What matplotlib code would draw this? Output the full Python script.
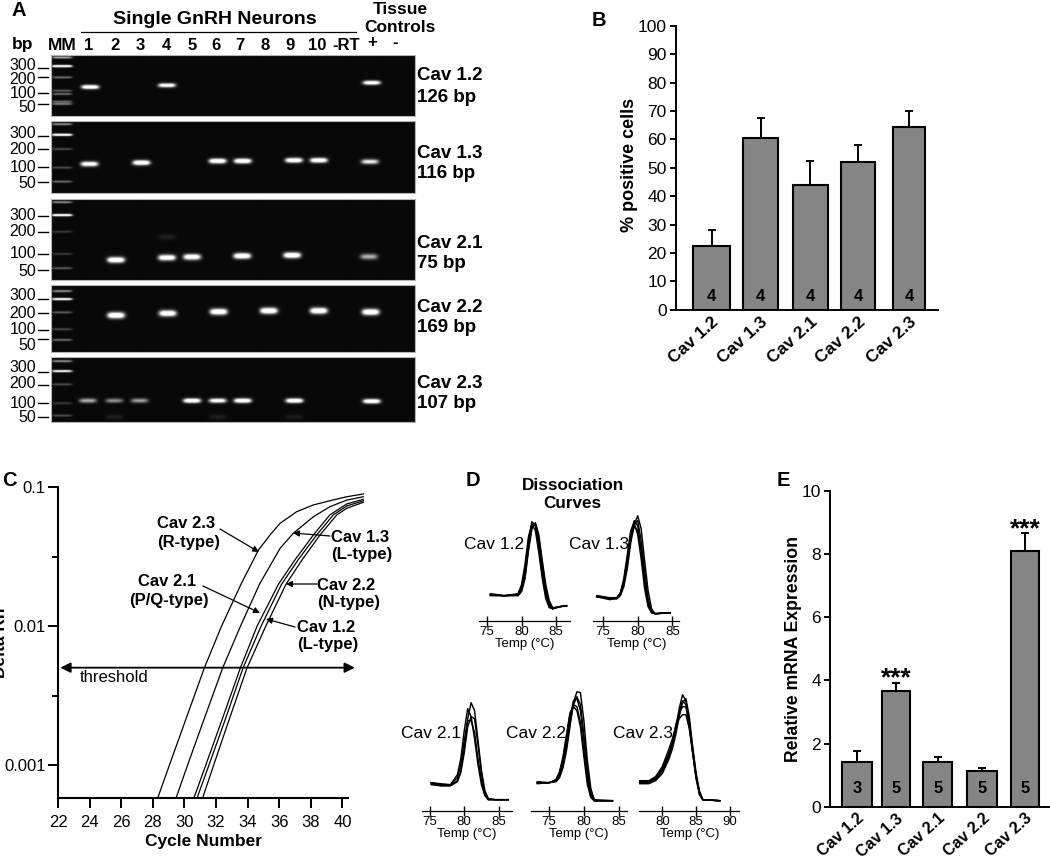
import numpy as np
import matplotlib
matplotlib.use('Agg')
import matplotlib.pyplot as plt

plt.rcParams['font.family'] = ['Liberation Sans', 'DejaVu Sans']

W = 1050
H = 860

cav_names = ['Cav 1.2', 'Cav 1.3', 'Cav 2.1', 'Cav 2.2', 'Cav 2.3']

# Panel A, gel bands: lane number, row on the gel, brightness
gel_sizes = ['126 bp', '116 bp', '75 bp', '169 bp', '107 bp']
bp_labels = ['300', '200', '100', '50']
lane_labels = ['1', '2', '3', '4', '5', '6', '7', '8', '9', '10']

gel1_lanes = [1.0, 4.03, 12.11]
gel1_rows = [87, 85.3, 82.7]
gel1_levels = [1.0, 0.9, 0.95]
gel1_ladder = [57.3, 66, 77.3, 90.7, 94, 101.7, 104]
gel1_ladder_levels = [0.5, 1.0, 0.3, 0.25, 0.3, 0.3, 0.35]

gel2_lanes = [0.97, 3.02, 6.03, 7.02, 9.04, 10.02, 12.04]
gel2_rows = [164, 162.7, 161, 161, 160.3, 160.3, 161.7]
gel2_levels = [0.9, 1.0, 1.0, 1.0, 0.95, 0.95, 0.7]
gel2_ladder = [124, 134.7, 149, 167.7, 181.7]
gel2_ladder_levels = [0.4, 1.0, 0.2, 0.2, 0.3]

gel3_lanes = [2.02, 4.03, 5.02, 7.0, 8.97, 12.0, 4.03]
gel3_rows = [260, 257.7, 257, 256, 255.3, 256.7, 237]
gel3_levels = [1.0, 0.95, 0.95, 1.0, 1.0, 0.5, 0.07]
gel3_ladder = [202, 215, 231.7, 254, 268.3]
gel3_ladder_levels = [0.4, 1.0, 0.15, 0.15, 0.25]

gel4_lanes = [2.02, 4.06, 6.07, 8.05, 10.02, 12.07]
gel4_rows = [315.3, 313.3, 311.7, 310.7, 310.7, 312]
gel4_levels = [1.0, 0.95, 1.0, 1.0, 1.0, 1.0]
gel4_ladder = [291, 299, 312.3, 329.3, 340]
gel4_ladder_levels = [0.4, 0.9, 0.25, 0.2, 0.3]

gel5_lanes = [0.91, 1.95, 2.95, 5.02, 6.03, 7.02, 9.06, 12.11, 1.95, 6.03, 9.06]
gel5_rows = [400.7, 400.7, 400.7, 400.7, 400.7, 400.7, 400.7, 401.3, 417, 417, 417]
gel5_levels = [0.5, 0.4, 0.45, 1.0, 0.85, 1.0, 1.0, 1.0, 0.07, 0.07, 0.06]
gel5_ladder = [361, 371, 384.3, 403.3, 415.7]
gel5_ladder_levels = [0.4, 0.8, 0.2, 0.15, 0.2]

# Panel B
pct_positive = [22.5, 60.5, 44, 52, 64.5]
pct_err = [5.5, 7.2, 8.5, 6.2, 5.5]
pct_n = ['4', '4', '4', '4', '4']

# Panel C
c23_cycle = [28.31, 29.05, 30.0, 31.26, 32.35, 33.58, 34.68, 35.42, 36.05, 37.1, 38.16, 39.2, 40.27, 41.32]
c23_rn = [0.00058, 0.001, 0.002, 0.005, 0.01, 0.02, 0.0352, 0.0452, 0.0548, 0.0664, 0.0743, 0.0796, 0.0851, 0.0891]
c13_cycle = [29.47, 30.2, 31.15, 32.42, 33.55, 34.75, 36.05, 36.89, 38.16, 39.2, 40.27, 41.32]
c13_rn = [0.00058, 0.001, 0.002, 0.005, 0.01, 0.02, 0.0362, 0.0465, 0.0611, 0.0721, 0.0805, 0.0851]
c21_cycle = [30.6, 31.35, 32.3, 33.54, 34.6, 35.95, 37.0, 38.16, 39.2, 40.27, 41.32]
c21_rn = [0.00058, 0.001, 0.002, 0.005, 0.01, 0.02, 0.03, 0.0452, 0.063, 0.0755, 0.0816]
c12_cycle = [30.8, 31.55, 32.5, 33.71, 34.85, 36.15, 37.2, 38.37, 39.42, 40.27, 41.32]
c12_rn = [0.00058, 0.001, 0.002, 0.005, 0.01, 0.02, 0.03, 0.0452, 0.063, 0.073, 0.0796]
c22_cycle = [31.15, 31.85, 32.75, 33.96, 35.15, 36.43, 37.45, 38.58, 39.64, 40.27, 41.32]
c22_rn = [0.00058, 0.001, 0.002, 0.005, 0.01, 0.02, 0.03, 0.0452, 0.063, 0.0703, 0.0776]
threshold = 0.00502
cycle_ticks = [22, 24, 26, 28, 30, 32, 34, 36, 38, 40]

# Panel D, derivative curves in arbitrary height units
d12_temp = [75.5, 77.5, 79.5, 80, 80.5, 81, 81.5, 82, 82.5, 83, 83.5, 84, 84.5, 85.5, 86.5]
d12_curves = [
    [26, 25, 26, 32, 48, 78, 99, 95, 78, 52, 30, 16, 12, 14, 15],
    [26, 25, 27, 36, 56, 84, 97, 90, 68, 42, 22, 13, 12, 14, 15],
    [25, 25, 25, 29, 42, 70, 92, 98, 86, 60, 36, 20, 13, 14, 15],
    [26, 25, 26, 34, 52, 80, 94, 96, 72, 46, 26, 15, 12, 14, 15],
    [27, 25, 26, 30, 44, 72, 94, 96, 82, 56, 32, 18, 12, 14, 15],
]
d13_temp = [74.1, 76, 77, 77.5, 78, 78.5, 79, 79.5, 80, 80.5, 81, 81.5, 82, 82.5, 84.7]
d13_curves = [
    [24, 22, 22, 25, 34, 52, 78, 96, 105, 92, 60, 30, 12, 7, 8],
    [24, 22, 23, 27, 40, 62, 88, 100, 95, 70, 38, 16, 8, 7, 8],
    [25, 22, 22, 26, 36, 56, 82, 94, 90, 72, 42, 18, 9, 7, 8],
    [24, 21, 23, 28, 42, 66, 90, 98, 86, 62, 32, 14, 8, 7, 8],
    [25, 23, 23, 27, 38, 58, 84, 97, 100, 80, 50, 22, 9, 7, 8],
]
d21_temp = [75.2, 76.5, 78, 79, 79.5, 80, 80.5, 81, 81.5, 82, 82.5, 83, 83.5, 84.5, 86.4]
d21_curves = [
    [28, 27, 26, 36, 52, 80, 102, 94, 72, 46, 26, 15, 11, 11, 11],
    [27, 25, 25, 30, 40, 62, 92, 108, 100, 70, 40, 20, 12, 11, 11],
    [26, 25, 25, 29, 38, 58, 84, 94, 92, 66, 38, 18, 12, 11, 11],
    [28, 26, 26, 33, 46, 70, 90, 90, 78, 52, 30, 16, 11, 11, 11],
]
d22_temp = [73.3, 75, 76, 76.5, 77, 77.5, 78, 78.5, 79, 79.5, 80, 80.5, 81, 81.5, 84.1]
d22_curves = [
    [28, 28, 29, 33, 43, 60, 84, 108, 119, 118, 90, 50, 22, 11, 10],
    [27, 28, 31, 38, 52, 74, 96, 106, 104, 88, 60, 30, 14, 10, 10],
    [28, 28, 30, 36, 48, 68, 92, 110, 112, 100, 70, 36, 16, 10, 10],
    [29, 28, 31, 39, 54, 76, 98, 104, 100, 84, 54, 26, 13, 10, 10],
    [28, 28, 30, 35, 46, 64, 88, 106, 114, 106, 76, 42, 18, 10, 10],
]
d23_temp = [76.4, 78, 79, 80, 81, 81.5, 82, 82.5, 83, 83.5, 84, 84.5, 85, 85.5, 86, 88.5]
d23_curves = [
    [29, 28, 31, 38, 54, 66, 82, 102, 116, 110, 88, 62, 36, 18, 11, 10],
    [30, 30, 34, 44, 62, 72, 84, 92, 96, 96, 82, 58, 34, 18, 11, 10],
    [27, 27, 30, 37, 52, 62, 76, 94, 108, 112, 94, 64, 38, 20, 11, 10],
    [30, 29, 33, 42, 58, 68, 82, 98, 104, 104, 86, 58, 34, 17, 11, 10],
    [28, 28, 32, 40, 56, 68, 86, 98, 110, 106, 84, 58, 32, 16, 11, 10],
]

# Panel E
mrna = [1.4, 3.65, 1.4, 1.12, 8.1]
mrna_err = [0.35, 0.28, 0.18, 0.11, 0.55]
mrna_n = ['3', '5', '5', '5', '5']
mrna_stars = ['', '***', '', '', '***']

fig = plt.figure(figsize=(W / 100, H / 100), dpi=100)


def px_axes(left, top, right, bottom):
    '''Axes placed by the pixel box of the reference.'''
    return fig.add_axes([left / W, 1 - bottom / H, (right - left) / W, (bottom - top) / H])


# Overlay in pixel coordinates for the loose labels and arrows
over = fig.add_axes([0, 0, 1, 1], zorder=10)
over.set_xlim(0, W)
over.set_ylim(H, 0)
over.axis('off')
over.patch.set_alpha(0)


def label(x, y, s, size=12, weight='bold', ha='center', **kw):
    over.text(x, y, s, fontsize=size, fontweight=weight, ha=ha, va='center', **kw)


def arrow(x0, y0, x1, y1):
    over.annotate('', xy=(x1, y1), xytext=(x0, y0),
                  arrowprops=dict(arrowstyle='-|>', color='black', lw=0.9,
                                  mutation_scale=9, shrinkA=0, shrinkB=0))


for s, x, y in [('A', 19, 10), ('B', 599, 20), ('C', 9, 481), ('D', 473, 480), ('E', 783, 481)]:
    label(x, y, s, size=14.5)

# Panel A
gels = [
    (55, 116, 2.0, gel1_lanes, gel1_rows, gel1_levels, gel1_ladder, gel1_ladder_levels),
    (121, 193, 2.4, gel2_lanes, gel2_rows, gel2_levels, gel2_ladder, gel2_ladder_levels),
    (199, 280, 2.8, gel3_lanes, gel3_rows, gel3_levels, gel3_ladder, gel3_ladder_levels),
    (285, 352, 3.0, gel4_lanes, gel4_rows, gel4_levels, gel4_ladder, gel4_ladder_levels),
    (357, 422, 2.2, gel5_lanes, gel5_rows, gel5_levels, gel5_ladder, gel5_ladder_levels),
]
lane_left = -0.54
lane_right = 13.85
ladder_lane = -0.11

for top, bottom, thick, lanes, rows, levels, ladder, ladder_levels in gels:
    ax = px_axes(51, top, 415, bottom)
    xx, yy = np.meshgrid(np.linspace(lane_left, lane_right, 1092),
                         np.linspace(top, bottom, (bottom - top) * 3))
    img = np.full(xx.shape, 0.035)
    for lane, row, level in zip(lanes, rows, levels):
        img += 1.35 * level * np.exp(-((xx - lane) / 0.34) ** 4) * np.exp(-((yy - row) / thick) ** 2)
    for row, level in zip(ladder, ladder_levels):
        img += 1.4 * level * np.exp(-((xx - ladder_lane) / 0.4) ** 6) * np.exp(-((yy - row) / 1.1) ** 2)
    ax.imshow(np.clip(img, 0, 1), cmap='gray', vmin=0, vmax=1, aspect='auto',
              extent=(lane_left, lane_right, bottom, top), interpolation='bilinear')
    ax.set_xticks([])
    ax.set_yticks([])
    for sp in ax.spines.values():
        sp.set_color('#b5b5b5')
        sp.set_linewidth(0.8)

label(215, 20, 'Single GnRH Neurons', size=14)
over.plot([81, 356], [32, 32], color='black', lw=0.9)
label(400, 9, 'Tissue', size=12.5)
label(400, 27, 'Controls', size=12.5)
label(23, 45, 'bp', size=12.5)
label(62, 46, 'MM', size=12.5)
for s, x in zip(lane_labels, [89, 115, 140, 166, 192, 216, 240, 265, 290, 317]):
    label(x, 46, s, size=12)
label(346, 46, '-RT', size=12)
label(372, 43, '+', size=12)
label(395, 42, '-', size=12)

gel_label_y = [[65, 79, 94, 108], [133, 149, 168, 183], [216, 232, 254, 271],
               [296, 313, 329, 345], [367, 384, 403, 418]]
gel_dash_y = [[68, 77, 93, 104], [136, 149, 167, 182], [216, 232, 254, 270],
              [299, 313, 330, 339], [372, 385, 403, 417]]
gel_name_y = [(76, 97), (154, 174), (243, 263), (308, 328), (384, 404)]
for i in range(5):
    for s, y, dash in zip(bp_labels, gel_label_y[i], gel_dash_y[i]):
        label(36, y, s, size=11.5, weight='normal', ha='right')
        over.plot([38, 48], [dash, dash], color='black', lw=1.0)
    label(417, gel_name_y[i][0], cav_names[i], size=13.5, ha='left')
    label(417, gel_name_y[i][1], gel_sizes[i], size=13.5, ha='left')


def bar_panel(ax, centers, widths, values, errs, counts, count_y, name_size):
    ax.errorbar(centers, values, yerr=[[0] * 5, errs], fmt='none', ecolor='black',
                elinewidth=1.4, capsize=3, capthick=1.4, zorder=1)
    ax.bar(centers, values, width=widths, color='#858585', edgecolor='black', linewidth=1.5, zorder=2)
    for x, n in zip(centers, counts):
        ax.text(x, count_y, n, ha='center', va='center', fontsize=12, fontweight='bold', zorder=3)
    for side in ['top', 'right']:
        ax.spines[side].set_visible(False)
    for side in ['left', 'bottom']:
        ax.spines[side].set_linewidth(1.4)
    ax.tick_params(axis='y', width=1.4, length=4.5, labelsize=12.5, pad=2)
    ax.tick_params(axis='x', length=0, pad=3)
    ax.set_xticks(centers)
    ax.set_xticklabels(cav_names, rotation=42, ha='right', va='top', rotation_mode='anchor',
                       fontsize=name_size, fontweight='bold')


# Panel B
ax = px_axes(675.7, 26, 938, 309.7)
ax.set_xlim(675.7, 938)
ax.set_ylim(0, 100)
bar_panel(ax, [711.7, 760.5, 810.3, 858.3, 909.3], [36.7, 34.4, 34.7, 34, 32],
          pct_positive, pct_err, pct_n, 4.8, 12.5)
ax.set_yticks(range(0, 101, 10))
ax.set_ylabel('% positive cells', fontsize=13, fontweight='bold', labelpad=0, y=0.51)

# Panel C
ax = px_axes(58, 487, 348, 798)
ax.set_xlim(22, 40.35)
ax.set_ylim(0.00058, 0.1)
ax.set_yscale('log')
for cyc, rn in [(c23_cycle, c23_rn), (c13_cycle, c13_rn), (c21_cycle, c21_rn),
                (c12_cycle, c12_rn), (c22_cycle, c22_rn)]:
    ax.plot(cyc, rn, color='black', lw=0.9, clip_on=False)
ax.annotate('', xy=(22.15, threshold), xytext=(40.78, threshold), annotation_clip=False,
            arrowprops=dict(arrowstyle='<|-|>', color='black', lw=1.3, mutation_scale=15,
                            shrinkA=0, shrinkB=0))
for side in ['top', 'right']:
    ax.spines[side].set_visible(False)
for side in ['left', 'bottom']:
    ax.spines[side].set_linewidth(1.5)
ax.set_xticks(cycle_ticks)
ax.set_yticks([0.001, 0.01, 0.1])
ax.set_yticklabels(['0.001', '0.01', '0.1'])
ax.set_yticks([10 ** -2.5, 10 ** -1.5], minor=True)
ax.set_yticklabels([], minor=True)
ax.tick_params(axis='x', which='major', width=1.4, length=7, labelsize=12, pad=5)
ax.tick_params(axis='y', which='major', width=1.4, length=7, labelsize=12, pad=2)
ax.tick_params(axis='y', which='minor', width=1.4, length=4)
ax.set_xlabel('Cycle Number', fontsize=12.5, fontweight='bold', labelpad=3)
ax.set_ylabel('Delta Rn', fontsize=12.5, fontweight='bold', labelpad=-3)

label(157, 523, 'Cav 2.3', ha='left')
label(157, 542, '(R-type)', ha='left')
arrow(220, 529, 259, 552)
label(331, 537, 'Cav 1.3', ha='left')
label(331, 555, '(L-type)', ha='left')
arrow(330, 536, 293, 533)
label(167, 582, 'Cav 2.1')
label(169, 600, '(P/Q-type)')
arrow(203, 586, 260, 613)
label(317, 585, 'Cav 2.2', ha='left')
label(317, 603, '(N-type)', ha='left')
arrow(317, 584, 286, 584)
label(297, 627, 'Cav 1.2', ha='left')
label(297, 645, '(L-type)', ha='left')
arrow(295, 627, 266, 619)
label(80, 678, 'threshold', weight='normal', ha='left')

# Panel D
label(572.7, 485, 'Dissociation', size=12.3)
label(572.7, 503, 'Curves', size=12.3)
d_panels = [
    (479.3, 570, 620.7, 73.9, 87.0, [75, 80, 85], d12_temp, d12_curves, 'Cav 1.2', 524),
    (593.3, 679.3, 620.7, 73.6, 86.0, [75, 80, 85], d13_temp, d13_curves, 'Cav 1.3', 629),
    (422.3, 511.7, 810.7, 73.9, 86.9, [75, 80, 85], d21_temp, d21_curves, 'Cav 2.1', 461),
    (531, 626.7, 810.7, 72.4, 86.15, [75, 80, 85], d22_temp, d22_curves, 'Cav 2.2', 566),
    (639.3, 739.3, 810.7, 76.6, 91.4, [80, 85, 90], d23_temp, d23_curves, 'Cav 2.3', 673),
]
for left, right, base, t0, t1, ticks, temp, curves, name, name_x in d_panels:
    ax = px_axes(left, base - 130, right, base)
    ax.set_xlim(t0, t1)
    ax.set_ylim(0, 130)
    ax.patch.set_alpha(0)
    for c in curves:
        ax.plot(temp, c, color='black', lw=1.05)
    for side in ['top', 'right', 'left']:
        ax.spines[side].set_visible(False)
    ax.spines['bottom'].set_linewidth(0.9)
    ax.set_yticks([])
    ax.set_xticks(ticks)
    ax.tick_params(axis='x', direction='inout', width=1.0, length=7, labelsize=9.5, pad=0)
    ax.set_xlabel('Temp (°C)', fontsize=9.5, labelpad=0)
    label(name_x, base - 76.5 if base < 700 else base - 77, name, size=12.5, weight='normal', ha='right')

# Panel E
e_centers = [857.2, 896.2, 937.7, 982.2, 1025]
ax = px_axes(830, 490.7, 1050, 806.7)
ax.set_xlim(830, 1050)
ax.set_ylim(0, 10)
bar_panel(ax, e_centers, [29.7, 27.7, 29.3, 29.7, 28.6], mrna, mrna_err, mrna_n, 0.58, 11.5)
ax.set_yticks(range(0, 11, 2))
ax.set_ylabel('Relative mRNA Expression', fontsize=12.7, fontweight='bold', labelpad=0)
for x, v, e, s in zip(e_centers, mrna, mrna_err, mrna_stars):
    ax.text(x, v + e - 0.24, s, ha='center', va='bottom', fontsize=19, fontweight='bold')

fig.savefig('out.png', dpi=100)
